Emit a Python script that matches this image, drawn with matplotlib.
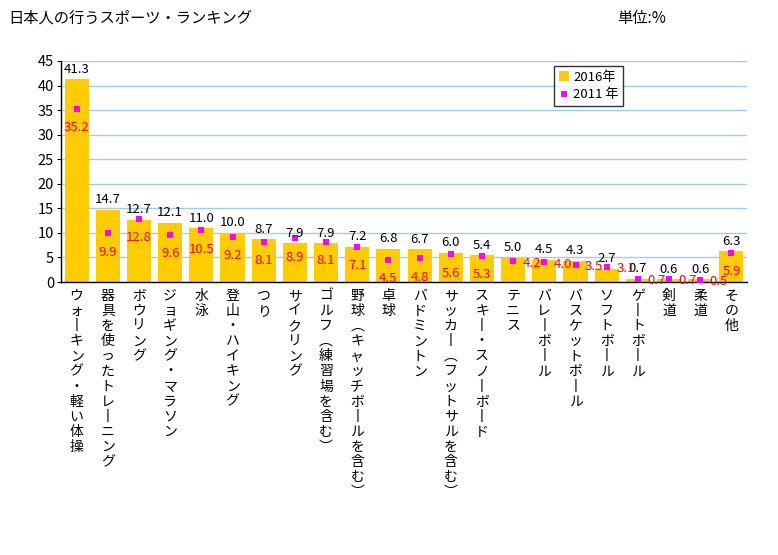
import matplotlib
matplotlib.use("Agg")
import matplotlib.pyplot as plt
from matplotlib.patches import Patch
from matplotlib.lines import Line2D

plt.rcParams['font.family'] = ['Noto Sans CJK JP', 'DejaVu Sans']

# data (%)
sports = [
    "ウォーキング・軽い体操", "器具を使ったトレーニング", "ボウリング", "ジョギング・マラソン",
    "水泳", "登山・ハイキング", "つり", "サイクリング", "ゴルフ（練習場を含む）",
    "野球（キャッチボールを含む）", "卓球", "バドミントン", "サッカー（フットサルを含む）",
    "スキー・スノーボード", "テニス", "バレーボール", "バスケットボール", "ソフトボール",
    "ゲートボール", "剣道", "柔道", "その他",
]
y2016 = [41.3, 14.7, 12.7, 12.1, 11.0, 10.0, 8.7, 7.9, 7.9, 7.2, 6.8, 6.7,
         6.0, 5.4, 5.0, 4.5, 4.3, 2.7, 0.7, 0.6, 0.6, 6.3]
y2011 = [35.2, 9.9, 12.8, 9.6, 10.5, 9.2, 8.1, 8.9, 8.1, 7.1, 4.5, 4.8,
         5.6, 5.3, 4.2, 4.0, 3.5, 3.1, 0.7, 0.7, 0.5, 5.9]
yticks = [0, 5, 10, 15, 20, 25, 30, 35, 40, 45]


def vertical(s):
    # stack characters top to bottom like vertical Japanese text
    swap = {"ー": "丨", "（": "︵", "）": "︶"}
    return "\n".join(swap.get(c, c) for c in s)


fig = plt.figure(figsize=(7.78, 5.55), dpi=100)
ax = fig.add_axes([61 / 778, 1 - 282 / 555, 686 / 778, 221 / 555])

x = list(range(len(sports)))
ax.bar(x, y2016, width=0.77, color="#FFCC00", zorder=2)
ax.plot(x, y2011, linestyle="none", marker="s", markersize=4.5,
        color="#FF00FF", markeredgewidth=0, zorder=3)

for i, v in enumerate(y2016):
    ax.annotate(f"{v:.1f}", (i, v), xytext=(0, 2.5), textcoords="offset points",
                ha="center", va="bottom", fontsize=9.5, color="black", zorder=4)

for i, v in enumerate(y2011):
    if 14 <= i <= 20:
        off = (13.5, -1.5)
    else:
        off = (0, -13.5)
    ax.annotate(f"{v:.1f}", (i, v), xytext=off, textcoords="offset points",
                ha="center", va="center", fontsize=9.5, color="#FF0000", zorder=4)

ax.set_xlim(-0.5, len(sports) - 0.5)
ax.set_ylim(0, 45)
ax.set_yticks(yticks)
ax.tick_params(axis="y", direction="out", length=3, labelsize=10.5, pad=2)
ax.yaxis.grid(True, color="#99CCFF", linewidth=1)
ax.set_axisbelow(True)
ax.spines["top"].set_visible(False)
ax.spines["right"].set_visible(False)
ax.spines["left"].set_linewidth(1)
ax.spines["bottom"].set_linewidth(1)

ax.set_xticks(x)
ax.set_xticklabels([vertical(s) for s in sports], fontsize=10, va="top",
                   linespacing=1.1)
ax.tick_params(axis="x", length=0, pad=5)

fig.text(8 / 778, 1 - 18 / 555, "日本人の行うスポーツ・ランキング", fontsize=11,
         ha="left", va="center")
fig.text(617 / 778, 1 - 18 / 555, "単位:%", fontsize=11, ha="left", va="center")

handles = [
    Patch(facecolor="#FFCC00", edgecolor="none", label="2016年"),
    Line2D([], [], linestyle="none", marker="s", markersize=4.5,
           color="#FF00FF", markeredgewidth=0, label="2011 年"),
]
leg = fig.legend(handles=handles, loc="upper left",
                 bbox_to_anchor=(554 / 778, 1 - 66 / 555), fontsize=9.5,
                 frameon=True, fancybox=False, handlelength=0.8,
                 handletextpad=0.3, borderpad=0.35, labelspacing=0.35,
                 borderaxespad=0)
leg.get_frame().set_edgecolor("black")
leg.get_frame().set_linewidth(1)

fig.savefig("out.png", dpi=100)
